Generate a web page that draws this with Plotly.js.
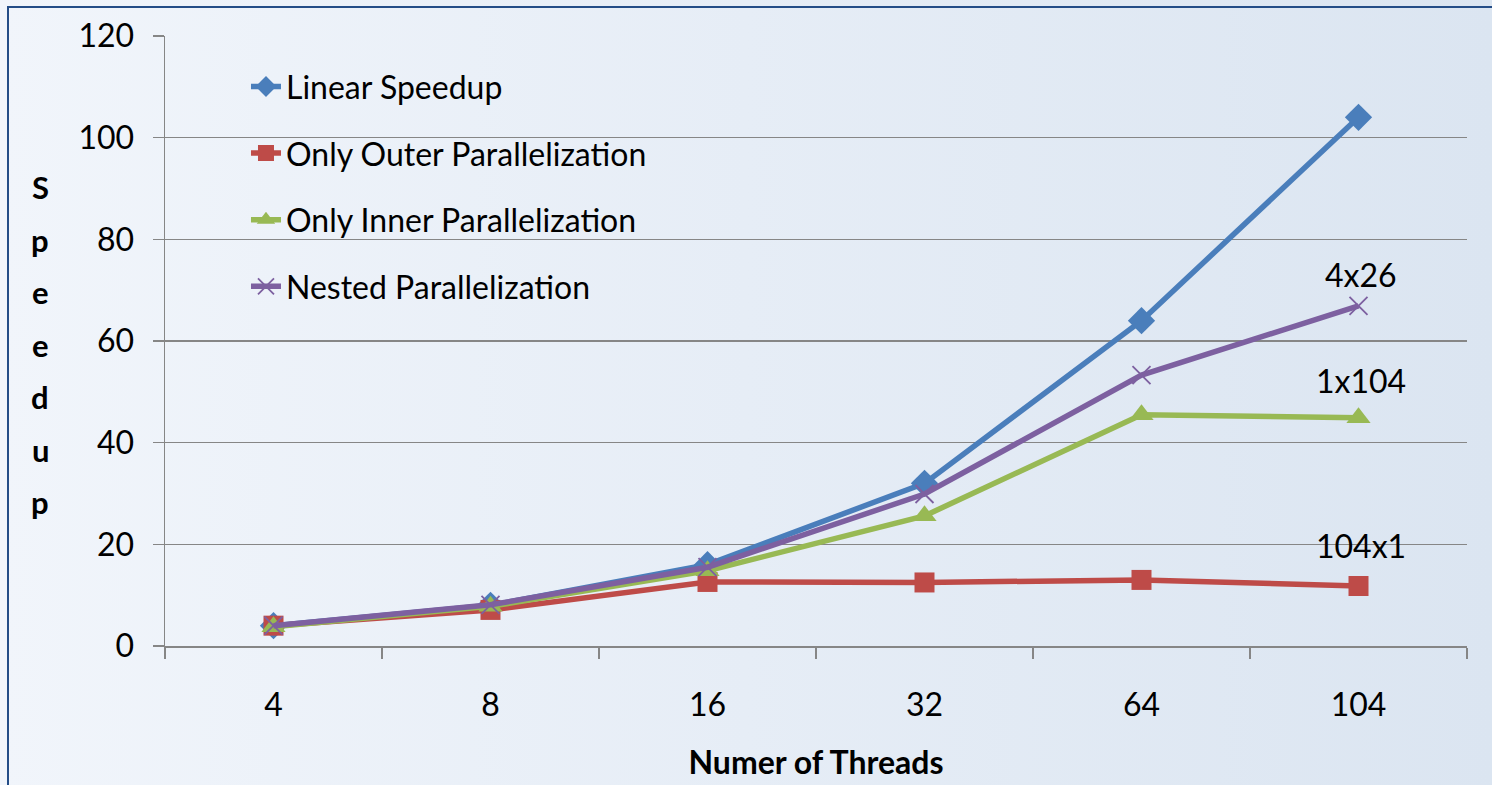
<!DOCTYPE html>
<html>
<head>
<meta charset="utf-8">
<script src="https://cdn.plot.ly/plotly-3.0.1.min.js"></script>
<style>
  html, body { margin: 0; padding: 0; }
  body {
    width: 1492px; height: 785px; overflow: hidden; position: relative;
    background: linear-gradient(to right, #f1f5fb 0%, #e6edf6 50%, #dbe5f1 100%);
  }
  #frame {
    position: absolute; left: 7px; top: 6px; right: -10px; bottom: -10px;
    border-left: 2.5px solid #244d87; border-top: 2.5px solid #244d87;
  }
  #chart { position: absolute; left: 0; top: 0; width: 1492px; height: 785px; }
</style>
</head>
<body>
<div id="frame"></div>
<div id="chart"></div>
<script>
const threads = ['4', '8', '16', '32', '64', '104'];
const linearSpeedup = [4, 8, 16, 32, 64, 104];
const outerPar = [4, 7.1, 12.6, 12.5, 13, 11.8];
const innerPar = [3.8, 7.8, 14.8, 25.6, 45.5, 44.9];
const nestedPar = [4, 8.1, 15.5, 29.9, 53.3, 66.9];
const seriesNames = ['Linear Speedup', 'Only Outer Parallelization', 'Only Inner Parallelization', 'Nested Parallelization'];
const labelTexts = ['4x26', '1x104', '104x1'];
const labelY = [73, 52.2, 19.8];
const yTitleLetters = ['S', 'p', 'e', 'e', 'd', 'u', 'p'];

const FONT = 'Lato, "Open Sans", sans-serif';
const colors = ['#4a7ebb', '#be4b48', '#98b954', '#7d60a0'];

const traces = [
  { x: threads, y: linearSpeedup, name: seriesNames[0], legendgroup: 'a',
    mode: 'lines+markers', line: { color: colors[0], width: 5.5 },
    marker: { symbol: 'diamond', size: 21, color: colors[0] } },
  { x: threads, y: outerPar, name: seriesNames[1], legendgroup: 'b',
    mode: 'lines+markers', line: { color: colors[1], width: 5.5 },
    marker: { symbol: 'square', size: 20, color: colors[1] } },
  { x: threads, y: innerPar, name: seriesNames[2], legendgroup: 'c',
    mode: 'lines+markers', line: { color: colors[2], width: 5.5 },
    marker: { symbol: 'triangle-up', size: 21, color: colors[2] } },
  { x: threads, y: nestedPar, name: seriesNames[3], legendgroup: 'd',
    mode: 'lines+markers', line: { color: colors[3], width: 5.5 },
    marker: { symbol: 'x-thin-open', size: 18, color: colors[3], line: { color: colors[3], width: 1.8 } } }
];

const lastIdx = threads.length - 1;
const annotations = labelTexts.map((t, i) => ({
  x: lastIdx, y: labelY[i], xref: 'x', yref: 'y', text: t, showarrow: false,
  xshift: 2, font: { family: FONT, size: 32, color: '#000' }
}));
yTitleLetters.forEach((ch, i) => {
  annotations.push({
    xref: 'paper', yref: 'paper', x: -0.096, y: 1 - (187 + i * 52.5 - 36) / 610,
    text: '<b>' + ch + '</b>', showarrow: false, xanchor: 'center', yanchor: 'middle',
    font: { family: FONT, size: 31, color: '#000' }
  });
});

const layout = {
  width: 1492, height: 785,
  margin: { l: 165, r: 25, t: 36, b: 139 },
  paper_bgcolor: 'rgba(0,0,0,0)',
  plot_bgcolor: 'rgba(0,0,0,0)',
  showlegend: true,
  legend: {
    x: 0.0622, y: 0.962, xanchor: 'left', yanchor: 'top',
    bgcolor: 'rgba(0,0,0,0)', borderwidth: 0,
    traceorder: 'grouped', tracegroupgap: 22,
    font: { family: FONT, size: 32, color: '#000' }
  },
  xaxis: {
    type: 'category', range: [-0.5, lastIdx + 0.5],
    tickson: 'boundaries', ticks: 'outside', ticklen: 11,
    tickcolor: '#868686', tickwidth: 1.5,
    showline: true, linecolor: '#868686', linewidth: 1.5,
    showgrid: false, zeroline: false, tickangle: 0,
    tickfont: { family: FONT, size: 32, color: '#000' },
    ticklabelstandoff: 30,
    title: { text: '<b>Numer of Threads</b>', standoff: 29,
      font: { family: FONT, size: 32, color: '#000' } },
    automargin: false
  },
  yaxis: {
    range: [0, 120], tickvals: [0, 20, 40, 60, 80, 100, 120],
    ticks: 'outside', ticklen: 11, tickcolor: '#868686', tickwidth: 1.5,
    showline: true, linecolor: '#868686', linewidth: 1.5,
    showgrid: true, gridcolor: '#868686', gridwidth: 1.5, zeroline: false,
    tickfont: { family: FONT, size: 32, color: '#000' },
    ticklabelstandoff: 12,
    automargin: false
  },
  annotations: annotations
};

Plotly.newPlot('chart', traces, layout, { displayModeBar: false, staticPlot: true });
</script>
</body>
</html>
